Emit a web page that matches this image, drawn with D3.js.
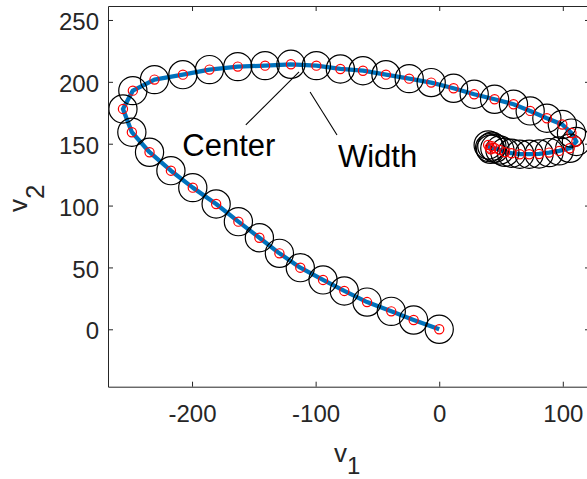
<!DOCTYPE html>
<html>
<head>
<meta charset="utf-8">
<script src="https://cdn.jsdelivr.net/npm/d3@7"></script>
<style>
  body { margin: 0; background: #fff; }
  svg { display: block; font-family: "Liberation Sans", Arial, sans-serif; }
</style>
</head>
<body>
<svg id="chart" width="587" height="479"></svg>
<script>
// centre path of the tube (v1, v2) and its half width
const v1 = [0, -20.7, -38.8, -58.4, -76.8, -94, -112.4, -129.3, -145.5, -162.5,
  -180.5, -199.4, -217.1, -234.4, -248.7, -255.9, -247.9, -230.4, -207.4, -185.9,
  -163, -140.9, -120, -99.4, -80, -61.7, -43.1, -24.3, -6.5, 11.6,
  28.3, 44.8, 60.1, 73.6, 87.1, 99.6, 107, 111, 105.6, 97,
  88.9, 80.8, 72.8, 65.2, 58.5, 53.1, 49.1, 45, 41.6, 39.6, 40.8, 42.6];
const v2 = [0, 7.5, 14.5, 22, 31, 39.9, 49.8, 61.4, 74, 87,
  101.3, 114.5, 128.2, 143.1, 159.3, 178.1, 192.9, 201.8, 205.8, 209.9,
  212.3, 213.1, 214.2, 213.1, 210.4, 209, 205.8, 202.6, 199.4, 194.8,
  190, 185.9, 181.9, 176.5, 170.6, 165.5, 158.6, 151.8, 146.3, 144.2,
  142.8, 141.7, 141.5, 141.5, 142.3, 143.1, 144.9, 146.3, 145.5, 149, 146.8, 148];
const width = 11.4;

const xTicks = [-200, -100, 0, 100];
const yTicks = [0, 50, 100, 150, 200, 250];
const xDomain = [-268, 122];
const yDomain = [-46.4, 261.3];

// annotation callouts: label, text anchor and leader line (data units)
const notes = [
  { label: "Center", at: [-207.9, 139.7], line: [[-156.5, 165.2], [-113.4, 208]] },
  { label: "Width", at: [-82, 131.4], line: [[-104.5, 191.8], [-82.7, 157.1]] }
];

const svg = d3.select("#chart");
const ink = "#262626";
const plotL = 108, plotR = 590, plotT = 6, plotB = 386.7;

const x = d3.scaleLinear().domain(xDomain).range([plotL, plotR]);
const y = d3.scaleLinear().domain(yDomain).range([plotB, plotT]);

// plain hyphen for negative tick labels
const fmt = d => String(d);

const pts = v1.map((d, i) => [d, v2[i]]);

// blue centre line
svg.append("path")
  .datum(pts)
  .attr("fill", "none")
  .attr("stroke", "#0072BD")
  .attr("stroke-width", 4.3)
  .attr("stroke-linejoin", "round")
  .attr("d", d3.line().x(d => x(d[0])).y(d => y(d[1])));

// width circles
svg.append("g")
  .selectAll("circle")
  .data(pts)
  .join("circle")
  .attr("cx", d => x(d[0]))
  .attr("cy", d => y(d[1]))
  .attr("r", x(width) - x(0))
  .attr("fill", "none")
  .attr("stroke", "#000")
  .attr("stroke-width", 1.2);

// centre markers
svg.append("g")
  .selectAll("circle")
  .data(pts)
  .join("circle")
  .attr("cx", d => x(d[0]))
  .attr("cy", d => y(d[1]))
  .attr("r", 4.6)
  .attr("fill", "none")
  .attr("stroke", "#ff0000")
  .attr("stroke-width", 1.2);

// callouts
notes.forEach(n => {
  svg.append("line")
    .attr("x1", x(n.line[0][0])).attr("y1", y(n.line[0][1]))
    .attr("x2", x(n.line[1][0])).attr("y2", y(n.line[1][1]))
    .attr("stroke", "#000")
    .attr("stroke-width", 1.1);
  svg.append("text")
    .attr("x", x(n.at[0]))
    .attr("y", y(n.at[1]))
    .attr("font-size", 31)
    .attr("fill", "#000")
    .text(n.label);
});

// axes box, ticks pointing inward
const styleAxis = g => {
  g.selectAll("path.domain").attr("stroke", ink).attr("stroke-width", 1);
  g.selectAll(".tick line").attr("stroke", ink);
  g.selectAll(".tick text").attr("fill", ink).attr("font-size", 24)
    .attr("font-family", "Liberation Sans, Arial, sans-serif");
};

svg.append("g")
  .attr("transform", `translate(0,${plotB})`)
  .call(d3.axisBottom(x).tickValues(xTicks).tickFormat(fmt).tickSizeInner(-5).tickSizeOuter(0).tickPadding(18))
  .call(styleAxis);

svg.append("g")
  .attr("transform", `translate(0,${plotT})`)
  .call(d3.axisTop(x).tickValues(xTicks).tickSizeInner(-5).tickSizeOuter(0).tickFormat(""))
  .call(styleAxis);

svg.append("g")
  .attr("transform", `translate(${plotL},0)`)
  .call(d3.axisLeft(y).tickValues(yTicks).tickFormat(fmt).tickSizeInner(-5).tickSizeOuter(0).tickPadding(9))
  .call(styleAxis)
  .call(g => g.selectAll(".tick text").attr("dy", "0.4em"));

svg.append("g")
  .attr("transform", `translate(${plotR},0)`)
  .call(d3.axisRight(y).tickValues(yTicks).tickSizeInner(-5).tickSizeOuter(0).tickFormat(""))
  .call(styleAxis);

// axis titles with subscripts
const xl = svg.append("text")
  .attr("x", 334)
  .attr("y", 461.7)
  .attr("font-size", 26)
  .attr("fill", ink);
xl.append("tspan").text("v");
xl.append("tspan").attr("dy", 12.5).attr("font-size", 24).text("1");

const yl = svg.append("text")
  .attr("transform", "translate(27,212) rotate(-90)")
  .attr("font-size", 26)
  .attr("fill", ink);
yl.append("tspan").text("v");
yl.append("tspan").attr("dy", 17).attr("font-size", 26).text("2");
</script>
</body>
</html>
